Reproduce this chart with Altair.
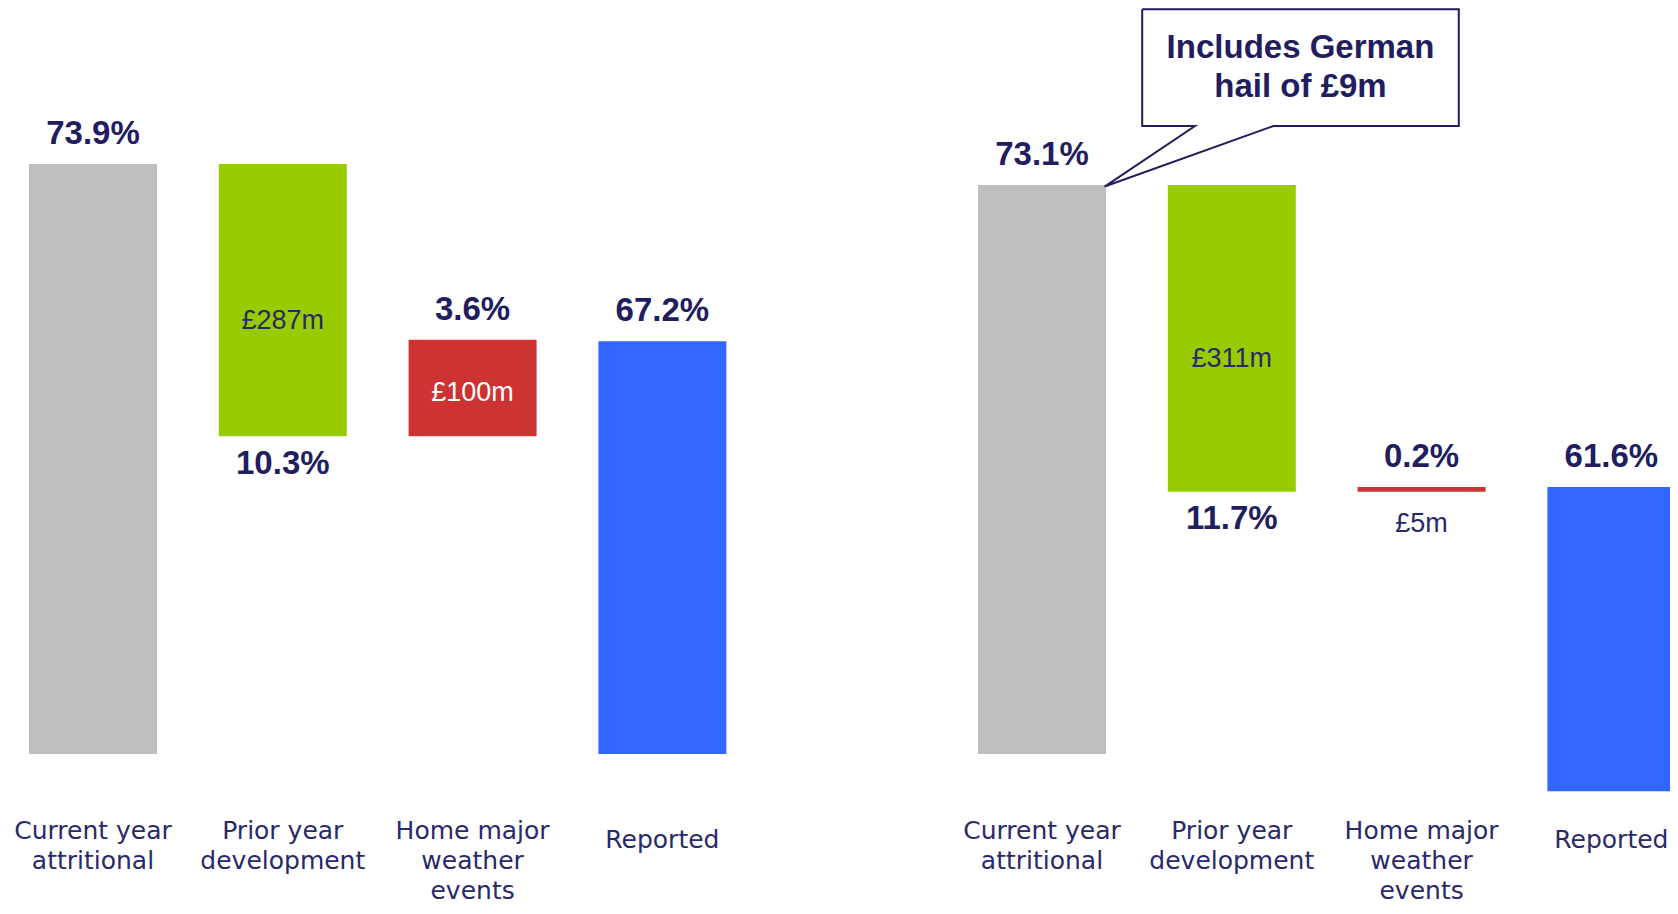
import altair as alt
import pandas as pd

# ---------------- data ----------------
categories = ["Current year\nattritional", "Prior year\ndevelopment",
              "Home major\nweather\nevents", "Reported"]
kinds = ["total", "decrease", "increase", "total"]
bar_colors = ["#BFBFBF", "#99CC00", "#CC3333", "#3366FF"]

left_slots = [0, 1, 2, 3]
left_values = ["73.9%", "10.3%", "3.6%", "67.2%"]
left_amounts = ["", "£287m", "£100m", ""]
left_bottom = [0, 39.8, 39.8, 0]
left_top = [73.9, 73.9, 51.9, 51.7]

right_slots = [5, 6, 7, 8]
right_values = ["73.1%", "11.7%", "0.2%", "61.6%"]
right_amounts = ["", "£311m", "£5m", ""]
right_bottom = [0, 33.7, 33.7, -4.8]
right_top = [73.1, 73.1, 34.3, 34.3]

callout_text = "Includes German\nhail of £9m"
callout_x = [5.528, 7.196, 7.196, 6.220, 5.330, 5.806, 5.528, 5.528]
callout_y = [95.67, 95.67, 80.68, 80.68, 72.9, 80.68, 80.68, 95.67]

# ---------------- layout ----------------
W, H = 1662, 898
NAVY = "#211D5E"
LABEL = "#2A2969"
BOLD_FONT = "Liberation Sans"
xscale = alt.Scale(domain=[-0.4478, 8.3088], nice=False, zero=False, padding=0)
left_dom = [-19.039, 93.439]
right_dom = [-19.527, 95.839]


def panel_df(slots, values, amounts, bottom, top):
    return pd.DataFrame({
        "slot": slots, "category": categories, "kind": kinds,
        "value": values, "amount": amounts,
        "bottom": bottom, "top": top,
    })


def panel_layers(df, ydom):
    ysc = alt.Scale(domain=ydom, nice=False, zero=False, padding=0)
    base = alt.Chart(df).encode(x=alt.X("slot:Q", scale=xscale, axis=None))
    mid = base.transform_calculate(mid="(datum.top + datum.bottom) / 2",
                                   h="datum.top - datum.bottom")
    bars = base.mark_bar(size=128).encode(
        y=alt.Y("bottom:Q", scale=ysc, axis=None),
        y2="top:Q",
        color=alt.Color("category:N",
                        scale=alt.Scale(domain=categories, range=bar_colors),
                        legend=None),
    )
    top_lbl = base.transform_filter("datum.kind != 'decrease'").mark_text(
        font=BOLD_FONT, fontWeight="bold", fontSize=33, color=NAVY,
        baseline="alphabetic", dy=-20,
    ).encode(y=alt.Y("top:Q", scale=ysc, axis=None), text="value:N")
    bot_lbl = base.transform_filter("datum.kind == 'decrease'").mark_text(
        font=BOLD_FONT, fontWeight="bold", fontSize=33, color=NAVY,
        baseline="alphabetic", dy=37.5,
    ).encode(y=alt.Y("bottom:Q", scale=ysc, axis=None), text="value:N")
    green_amt = mid.transform_filter("datum.kind == 'decrease'").mark_text(
        font=BOLD_FONT, fontSize=27, color=LABEL, baseline="alphabetic", dy=29,
    ).encode(y=alt.Y("mid:Q", scale=ysc, axis=None), text="amount:N")
    red_in = mid.transform_filter("datum.kind == 'increase' && datum.h > 5").mark_text(
        font=BOLD_FONT, fontSize=27, color="#FFFFFF", baseline="alphabetic", dy=13,
    ).encode(y=alt.Y("mid:Q", scale=ysc, axis=None), text="amount:N")
    red_out = mid.transform_filter("datum.kind == 'increase' && datum.h <= 5").mark_text(
        font=BOLD_FONT, fontSize=27, color=LABEL, baseline="alphabetic", dy=40,
    ).encode(y=alt.Y("bottom:Q", scale=ysc, axis=None), text="amount:N")
    cats_multi = base.transform_filter("indexof(datum.category, '\\n') >= 0").mark_text(
        font="DejaVu Sans", fontSize=25, color=LABEL, baseline="alphabetic",
        lineBreak="\n", lineHeight=30,
    ).encode(y=alt.value(831), text="category:N")
    cats_single = base.transform_filter("indexof(datum.category, '\\n') < 0").mark_text(
        font="DejaVu Sans", fontSize=25, color=LABEL, baseline="alphabetic",
    ).encode(y=alt.value(840), text="category:N")
    return [bars, top_lbl, bot_lbl, green_amt, red_in, red_out,
            cats_multi, cats_single]


left_df = panel_df(left_slots, left_values, left_amounts, left_bottom, left_top)
right_df = panel_df(right_slots, right_values, right_amounts, right_bottom, right_top)

rsc = alt.Scale(domain=right_dom, nice=False, zero=False, padding=0)
callout_df = pd.DataFrame({"cx": callout_x, "cy": callout_y,
                           "i": list(range(len(callout_x)))})
callout_line = alt.Chart(callout_df).mark_line(
    color=NAVY, strokeWidth=2, strokeJoin="miter"
).encode(
    x=alt.X("cx:Q", scale=xscale, axis=None),
    y=alt.Y("cy:Q", scale=rsc, axis=None),
    order="i:Q",
)
callout_lbl_df = pd.DataFrame({
    "tx": [(callout_x[0] + callout_x[1]) / 2],
    "ty": [89.38], "t": [callout_text],
})
callout_lbl = alt.Chart(callout_lbl_df).mark_text(
    font=BOLD_FONT, fontWeight="bold", fontSize=33, color=NAVY,
    baseline="alphabetic", lineBreak="\n", lineHeight=38.4,
).encode(
    x=alt.X("tx:Q", scale=xscale, axis=None),
    y=alt.Y("ty:Q", scale=rsc, axis=None),
    text="t:N",
)

layers = panel_layers(left_df, left_dom) + panel_layers(right_df, right_dom) + [
    callout_line, callout_lbl]

chart = alt.layer(*layers).resolve_scale(y="independent").properties(
    width=W, height=H, padding=0,
    autosize=alt.AutoSizeParams(type="none"),
    background="white",
).configure_view(stroke=None)

chart.save("out.html", embed_options={"renderer": "svg", "actions": False})
